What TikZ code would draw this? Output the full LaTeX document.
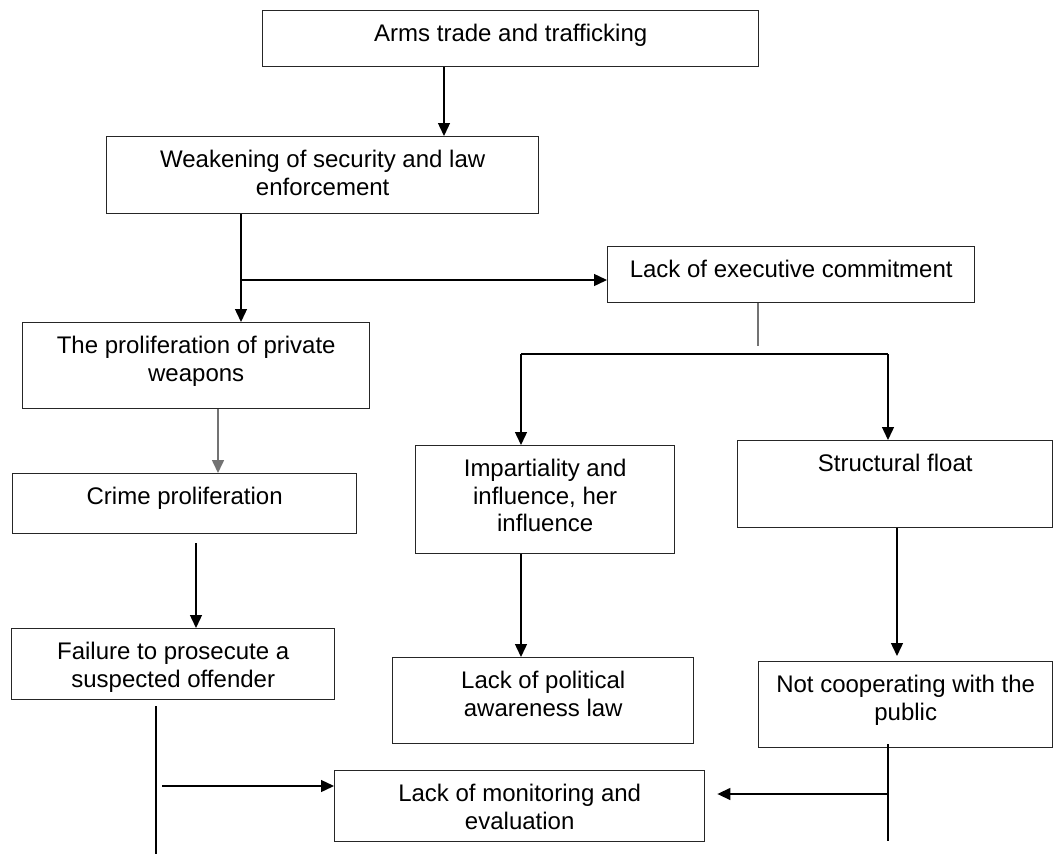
\documentclass[tikz,border=0pt]{standalone}
\usepackage{fontspec}
\setmainfont{Liberation Sans}
\usetikzlibrary{arrows.meta}
\newcommand{\bxtext}[3]{\parbox[c][#2pt][t]{#1pt}{\centering\fontsize{24pt}{27.6pt}\selectfont\rule{0pt}{31pt}#3\par}}
\tikzset{
  box/.style={draw=black!85, line width=1.4pt, inner sep=0pt, anchor=north west, fill=white},
  conn/.style={line width=1.4pt, draw=black},
  grayconn/.style={line width=1.2pt, draw=black!55},
  arr/.style={-{Triangle[length=13pt,width=12pt]}},
}
\begin{document}
\begin{tikzpicture}[x=1pt,y=-1pt]
\useasboundingbox (0,0) rectangle (1053,854);
% boxes
\node[box] (b1) at (262,10) {\bxtext{496}{56}{Arms trade and trafficking}};
\node[box] (b2) at (106,136) {\bxtext{432}{77}{Weakening of security and law\\enforcement}};
\node[box] (b3) at (607,246) {\bxtext{367}{56}{Lack of executive commitment}};
\node[box] (b4) at (22,322) {\bxtext{347}{86}{The proliferation of private\\weapons}};
\node[box] (b5) at (12,473) {\bxtext{344}{60}{Crime proliferation}};
\node[box] (b6) at (415,445) {\bxtext{259}{108}{Impartiality and\\influence, her\\influence}};
\node[box] (b7) at (737,440) {\bxtext{315}{87}{Structural float}};
\node[box] (b8) at (11,628) {\bxtext{323}{71}{Failure to prosecute a\\suspected offender}};
\node[box] (b9) at (392,657) {\bxtext{301}{86}{Lack of political\\awareness law}};
\node[box] (b10) at (758,661) {\bxtext{294}{86}{Not cooperating with the\\public}};
\node[box] (b11) at (334,770) {\bxtext{370}{71}{Lack of monitoring and\\evaluation}};
% helper coordinates
\coordinate (j2) at (241,280);
\coordinate (s3) at (758,346);
\coordinate (hl) at (521,354);
\coordinate (hr) at (888,354);
\coordinate (s5) at (196,543);
\coordinate (s8) at (156,706);
\coordinate (e8) at (156,854);
\coordinate (h8) at (162,786);
\coordinate (s10) at (888,744);
\coordinate (e10) at (888,841);
\coordinate (h10) at (888,794);
% connectors
\draw[conn,arr] (b1.south -| 444,0) -- (b2.north -| 444,0);
\draw[conn,arr] (b2.south -| j2) -- (b4.north -| j2);
\draw[conn,arr] (j2) -- (b3.west |- j2);
\draw[grayconn] (b3.south -| s3) -- (s3);
\draw[conn] (hl) -- (hr);
\draw[conn,arr] (hl) -- (b6.north -| hl);
\draw[conn,arr] (hr) -- (b7.north -| hr);
\draw[grayconn,line width=1.6pt,arr] (b4.south -| 218,0) -- (b5.north -| 218,0);
\draw[conn,arr] (s5) -- (b8.north -| s5);
\draw[conn,arr] (b6.south -| hl) -- (b9.north -| hl);
\draw[conn,arr,shorten >=5pt] (b7.south -| 897,0) -- (b10.north -| 897,0);
\draw[conn] (s8) -- (e8);
\draw[conn,arr] (h8) -- (b11.west |- h8);
\draw[conn] (s10) -- (e10);
\draw[conn,arr,shorten >=12pt] (h10) -- (b11.east |- h10);
\end{tikzpicture}
\end{document}
